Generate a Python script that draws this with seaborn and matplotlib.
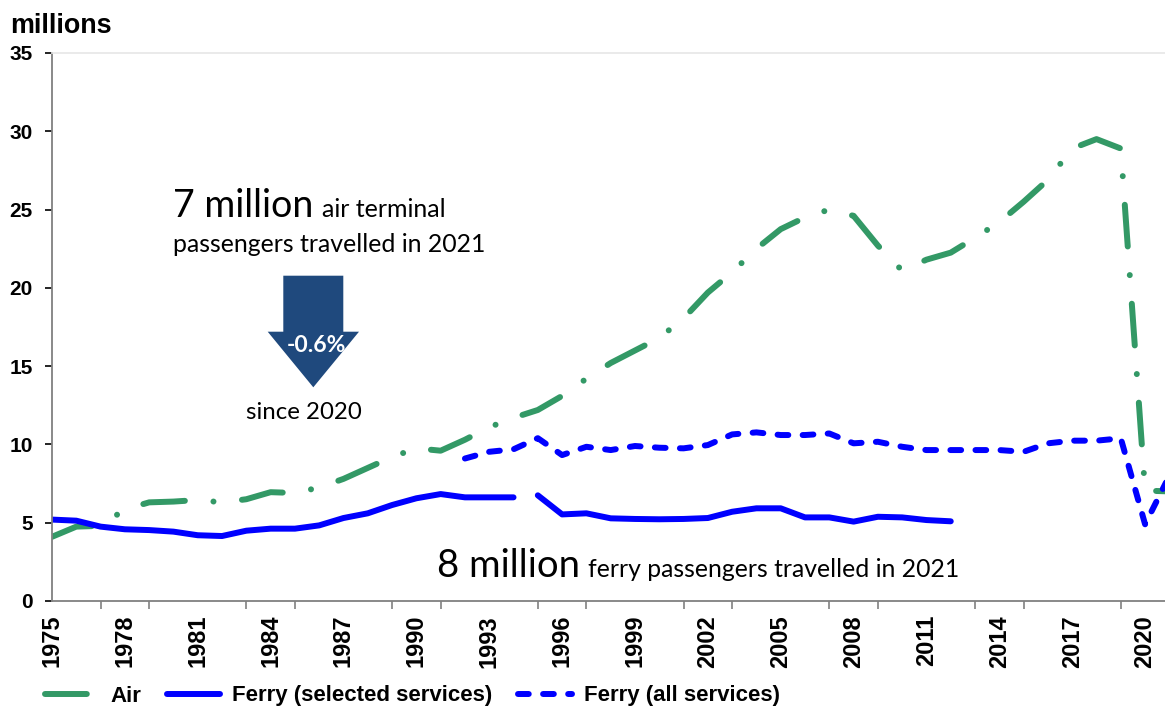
import matplotlib
matplotlib.use("Agg")
import matplotlib.pyplot as plt
from matplotlib.patches import Polygon
from matplotlib.ticker import FixedLocator, NullFormatter
import seaborn as sns
import pandas as pd

# ---- data (millions of passengers) ----
air_years = list(range(1975, 2022))
air = [4.1, 4.75, 4.8, 5.85, 6.3, 6.35, 6.45, 6.3, 6.5, 6.95, 6.9, 7.25, 7.8, 8.5,
       9.2, 9.75, 9.6, 10.3, 11.1, 11.7, 12.2, 13.1, 14.2, 15.2, 16.0, 16.8, 18.05,
       19.7, 21.0, 22.5, 23.75, 24.5, 25.0, 24.6, 22.7, 21.1, 21.8, 22.25, 23.2,
       24.2, 25.5, 26.9, 28.9, 29.5, 28.9, 7.05, 7.0]

ferry_sel_years_a = list(range(1975, 1995))
ferry_sel_a = [5.2, 5.13, 4.75, 4.58, 4.53, 4.43, 4.2, 4.15, 4.49, 4.62, 4.62, 4.83,
               5.3, 5.6, 6.13, 6.56, 6.83, 6.62, 6.62, 6.62]
ferry_sel_years_b = list(range(1995, 2013))
ferry_sel_b = [6.75, 5.53, 5.6, 5.28, 5.24, 5.22, 5.24, 5.3, 5.7, 5.92, 5.92, 5.34,
               5.34, 5.07, 5.38, 5.34, 5.17, 5.09]

ferry_all_years = list(range(1992, 2022))
ferry_all = [9.1, 9.53, 9.69, 10.4, 9.32, 9.85, 9.64, 9.9, 9.79, 9.75, 9.96, 10.64,
             10.77, 10.6, 10.6, 10.7, 10.07, 10.17, 9.85, 9.64, 9.64, 9.64, 9.64,
             9.53, 10.07, 10.24, 10.24, 10.39, 4.9, 8.0]

label_years = list(range(1975, 2021, 3))
tick_years = list(range(1975, 2022, 2))
y_ticks = [0, 5, 10, 15, 20, 25, 30, 35]

AIR_GREEN = "#339966"
FERRY_BLUE = "#0000FF"
ARROW_BLUE = "#1F497D"
TEXT = "#000000"

sns.set_theme(style="white")
plt.rcParams["font.family"] = ["Liberation Sans", "DejaVu Sans"]
plt.rcParams["text.color"] = TEXT
plt.rcParams["xtick.color"] = TEXT
plt.rcParams["ytick.color"] = TEXT

W, H = 1165, 706
fig = plt.figure(figsize=(W / 100, H / 100), dpi=100)
ax = fig.add_axes([52 / W, 105 / H, 1113 / W, 548 / H])


def fx(px):
    return px / W


def fy(py):
    return 1 - py / H


LW = 4.3

df_air = pd.DataFrame({"year": air_years, "value": air})
sns.lineplot(data=df_air, x="year", y="value", ax=ax, color=AIR_GREEN,
             linewidth=LW, label="Air")
air_line = ax.lines[-1]
air_line.set_linestyle((0, (7.0, 4.8, 0.01, 4.8)))
air_line.set_dash_capstyle("round")

df_a = pd.DataFrame({"year": ferry_sel_years_a, "value": ferry_sel_a})
df_b = pd.DataFrame({"year": ferry_sel_years_b, "value": ferry_sel_b})
sns.lineplot(data=df_a, x="year", y="value", ax=ax, color=FERRY_BLUE,
             linewidth=LW, label="Ferry (selected services)")
sel_line = ax.lines[-1]
sns.lineplot(data=df_b, x="year", y="value", ax=ax, color=FERRY_BLUE,
             linewidth=LW, label="_nolegend_")
for ln in (sel_line, ax.lines[-1]):
    ln.set_solid_capstyle("round")
    ln.set_solid_joinstyle("round")

df_all = pd.DataFrame({"year": ferry_all_years, "value": ferry_all})
sns.lineplot(data=df_all, x="year", y="value", ax=ax, color=FERRY_BLUE,
             linewidth=LW, label="Ferry (all services)")
all_line = ax.lines[-1]
all_line.set_linestyle((0, (1.8, 2.4)))
all_line.set_dash_capstyle("round")

ax.set_xlim(1975, 2020.82)
ax.set_ylim(0, 35)
ax.set_xlabel("")
ax.set_ylabel("")

# axes styling
for side in ("left", "bottom"):
    ax.spines[side].set_color("#808080")
    ax.spines[side].set_linewidth(1.3)
ax.spines["top"].set_color("#E6E6E6")
ax.spines["top"].set_linewidth(1.2)
ax.spines["right"].set_visible(False)

ax.set_yticks(y_ticks)
ax.set_yticklabels([str(v) for v in y_ticks], fontsize=15, fontweight="bold",
                   color=TEXT)
ax.tick_params(axis="y", direction="out", length=5, width=1.2, color="#000000",
               pad=9, left=True)

ax.set_xticks(label_years)
ax.set_xticklabels([str(y) for y in label_years], rotation=90, fontsize=17,
                   fontweight="bold", color=TEXT)
ax.xaxis.set_minor_locator(FixedLocator(tick_years))
ax.xaxis.set_minor_formatter(NullFormatter())
ax.tick_params(axis="x", which="major", length=0, pad=10, bottom=True)
ax.tick_params(axis="x", which="minor", direction="out", length=6, width=1.2,
               color="#808080", bottom=True)

ax.legend_.remove()
handles = [air_line, sel_line, all_line]
labels = ["Air", "Ferry (selected services)", "Ferry (all services)"]
leg = fig.legend(handles, labels, loc="center left",
                 bbox_to_anchor=(fx(36), fy(696)), ncol=3, frameon=False,
                 prop={"weight": "bold", "size": 16}, handlelength=2.4,
                 handletextpad=0.55, columnspacing=1.15, borderaxespad=0)
for lh in leg.get_lines():
    lh.set_linewidth(LW)
for t in leg.get_texts():
    t.set_color(TEXT)

# axis unit title
fig.text(fx(10), fy(33), "millions", fontsize=19.4, fontweight="bold",
         va="baseline", ha="left", color=TEXT)

# air annotation
NOTE_FONT = ["Lato", "DejaVu Sans"]
fig.text(fx(173), fy(217), "7 million", fontsize=27, family=NOTE_FONT,
         va="baseline", ha="left", color=TEXT)
fig.text(fx(322), fy(217), "air terminal", fontsize=18, family=NOTE_FONT,
         va="baseline", ha="left", color=TEXT)
fig.text(fx(173), fy(252), "passengers travelled in 2021", fontsize=17.9,
         family=NOTE_FONT, va="baseline", ha="left", color=TEXT)

arrow_px = [(283.3, 275.7), (343.3, 275.7), (343.3, 331.7), (359, 331.7),
            (313.3, 387.3), (267.7, 331.7), (283.3, 331.7)]
fig.patches.append(Polygon([(fx(x), fy(y)) for x, y in arrow_px], closed=True,
                           transform=fig.transFigure, facecolor=ARROW_BLUE,
                           edgecolor="none", figure=fig))
fig.text(fx(316), fy(346), "-0.6%", fontsize=16.5, fontweight="bold",
         family=NOTE_FONT, color="white", va="center", ha="center")
fig.text(fx(246), fy(419), "since 2020", fontsize=17.3, family=NOTE_FONT,
         va="baseline", ha="left", color=TEXT)

# ferry annotation
fig.text(fx(437), fy(577), "8 million", fontsize=27.5, family=NOTE_FONT,
         va="baseline", ha="left", color=TEXT)
fig.text(fx(588), fy(577), "ferry passengers travelled in 2021", fontsize=17.8,
         family=NOTE_FONT, va="baseline", ha="left", color=TEXT)

fig.savefig("out.png", dpi=100)
